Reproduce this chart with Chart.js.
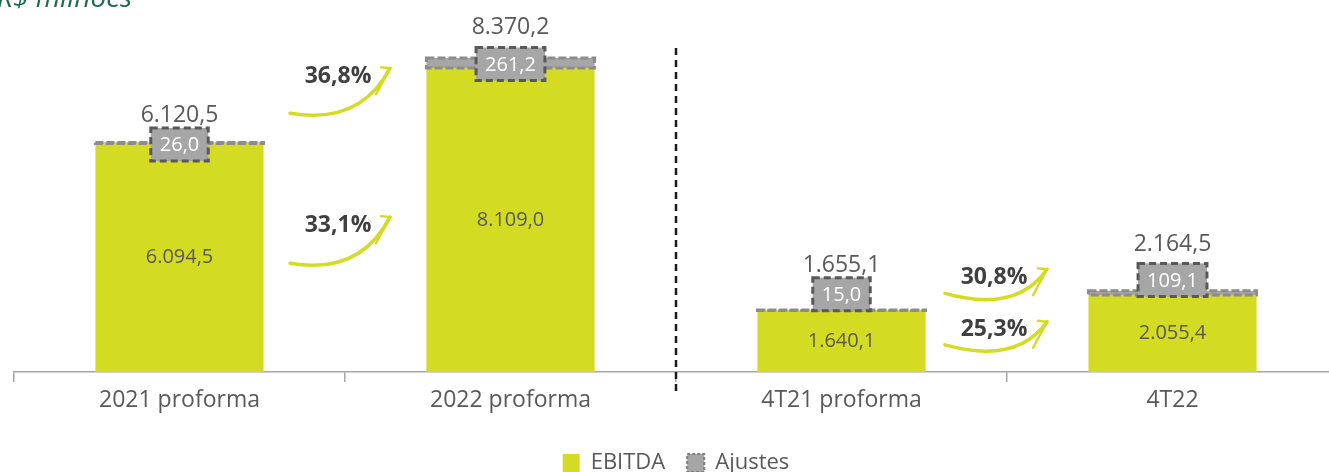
<!DOCTYPE html>
<html>
<head>
<meta charset="utf-8">
<script src="https://cdn.jsdelivr.net/npm/chart.js@4.4.0/dist/chart.umd.min.js"></script>
<style>
  html, body { margin: 0; padding: 0; overflow: hidden; background: #fff; }
  #wrap { position: relative; width: 1345px; height: 484px; }
</style>
</head>
<body>
<div id="wrap"><canvas id="chart" width="1345" height="484"></canvas></div>
<script>
const categories = ['2021 proforma', '2022 proforma', '4T21 proforma', '4T22'];
const ebitda = [6094.5, 8109.0, 1640.1, 2055.4];
const ajustes = [26.0, 261.2, 15.0, 109.1];
const growthTotal = ['36,8%', '30,8%'];
const growthEbitda = ['33,1%', '25,3%'];

const totals = ebitda.map((v, i) => v + ajustes[i]);

const green = '#d4db23';
const grey = '#a6a6a6';
const textGrey = '#595959';
const fontFamily = "'Open Sans', sans-serif";

function fmt(v) {
    const parts = v.toFixed(1).split('.');
    return parts[0].replace(/\B(?=(\d{3})+(?!\d))/g, '.') + ',' + parts[1];
}

// labels, dashed boxes, growth arrows, divider, title
const overlay = {
    id: 'overlay',
    afterDatasetsDraw(chart, args, opts) {
        const ctx = chart.ctx;
        const yScale = chart.scales.y;
        const xScale = chart.scales.x;
        const bars = chart.getDatasetMeta(0).data;
        const adj = chart.getDatasetMeta(1).data;

        ctx.save();
        ctx.textAlign = 'center';

        // ebitda values inside bars
        ctx.font = '20px ' + fontFamily;
        ctx.fillStyle = textGrey;
        ctx.textBaseline = 'middle';
        bars.forEach((el, i) => {
            ctx.fillText(fmt(ebitda[i]), el.x, (el.y + el.base) / 2);
        });

        // dashed outline of the ajustes segment
        adj.forEach((el) => {
            ctx.save();
            ctx.setLineDash([8, 3]);
            ctx.lineWidth = 3;
            ctx.strokeStyle = '#8c8c8c';
            ctx.strokeRect(el.x - el.width / 2, el.y, el.width, el.base - el.y);
            ctx.restore();
        });

        // ajustes value box + total above it
        adj.forEach((el, i) => {
            const txt = fmt(ajustes[i]);
            ctx.font = '20px ' + fontFamily;
            const w = ctx.measureText(txt).width + 18;
            const h = 33;
            const cy = (el.y + el.base) / 2 + opts.boxShift[i];
            ctx.fillStyle = grey;
            ctx.fillRect(el.x - w / 2, cy - h / 2, w, h);
            ctx.save();
            ctx.setLineDash([7, 4]);
            ctx.lineWidth = 3;
            ctx.strokeStyle = '#595959';
            ctx.strokeRect(el.x - w / 2, cy - h / 2, w, h);
            ctx.restore();
            ctx.fillStyle = '#ffffff';
            ctx.textBaseline = 'middle';
            ctx.fillText(txt, el.x, cy + 1);

            ctx.font = '23px ' + fontFamily;
            ctx.fillStyle = textGrey;
            ctx.textBaseline = 'alphabetic';
            ctx.fillText(fmt(totals[i]), el.x, cy - h / 2 - opts.totalGap[i]);
        });

        // growth arrows
        opts.arrows.forEach((a) => {
            const mx = (bars[a.from].x + bars[a.to].x) / 2;
            const x0 = mx + a.dx0, x1 = mx + a.dx1;
            const y0 = yScale.getPixelForValue(a.v0), y1 = yScale.getPixelForValue(a.v1);
            ctx.save();
            ctx.strokeStyle = green;
            ctx.lineWidth = 3.5;
            ctx.lineCap = 'round';
            ctx.beginPath();
            ctx.moveTo(x0, y0);
            ctx.quadraticCurveTo(x0 + 0.7 * (x1 - x0), y0 + a.sag, x1, y1);
            ctx.stroke();
            ctx.lineWidth = 2.5;
            ctx.beginPath();
            ctx.moveTo(x1 - 9, y1 - 1);
            ctx.lineTo(x1, y1);
            ctx.lineTo(x1 - 14, y1 + 26);
            ctx.stroke();
            ctx.restore();

            const label = a.kind === 'total' ? growthTotal[a.idx] : growthEbitda[a.idx];
            ctx.font = 'bold 23px ' + fontFamily;
            ctx.fillStyle = '#404040';
            ctx.textBaseline = 'middle';
            ctx.fillText(label, (x0 + x1) / 2 - 2, y1 + 8);
        });

        // dashed divider between years and quarters
        const dx = (bars[1].x + bars[2].x) / 2;
        ctx.save();
        ctx.setLineDash([7, 5]);
        ctx.lineWidth = 2.5;
        ctx.strokeStyle = '#1a1a1a';
        ctx.beginPath();
        ctx.moveTo(dx, 48);
        ctx.lineTo(dx, xScale.top + 22);
        ctx.stroke();
        ctx.restore();

        // unit title, cut by the top edge
        ctx.font = 'italic 28px ' + fontFamily;
        ctx.fillStyle = '#1e6b4f';
        ctx.textAlign = 'left';
        ctx.textBaseline = 'alphabetic';
        ctx.fillText('R$ milhões', -3, 7);

        ctx.restore();
    }
};

new Chart(document.getElementById('chart'), {
    type: 'bar',
    data: {
        labels: categories,
        datasets: [
            {
                label: 'EBITDA',
                data: ebitda,
                backgroundColor: green,
                borderWidth: 0,
                barPercentage: 0.508,
                categoryPercentage: 1
            },
            {
                label: 'Ajustes',
                data: ajustes,
                backgroundColor: grey,
                borderWidth: 0,
                barPercentage: 0.508,
                categoryPercentage: 1
            }
        ]
    },
    options: {
        responsive: false,
        animation: false,
        devicePixelRatio: 1,
        layout: { padding: { left: 14, right: 7, top: 0, bottom: 0 } },
        scales: {
            x: {
                stacked: true,
                border: { display: true, color: '#a6a6a6', width: 1.5 },
                grid: {
                    offset: true,
                    drawOnChartArea: false,
                    drawTicks: true,
                    tickLength: 10,
                    color: '#a6a6a6',
                    lineWidth: 1.5
                },
                ticks: {
                    color: textGrey,
                    font: { family: fontFamily, size: 23 },
                    padding: 5
                },
                afterFit(scale) { scale.height = 58; }
            },
            y: {
                stacked: true,
                display: false,
                min: 0,
                max: 9920
            }
        },
        plugins: {
            tooltip: { enabled: false },
            legend: {
                position: 'bottom',
                labels: {
                    color: textGrey,
                    font: { family: fontFamily, size: 22 },
                    boxWidth: 17,
                    boxHeight: 18,
                    padding: 22,
                    generateLabels(chart) {
                        return chart.data.datasets.map((ds, i) => ({
                            text: ds.label,
                            fillStyle: ds.backgroundColor,
                            strokeStyle: i === 1 ? '#7f7f7f' : ds.backgroundColor,
                            lineWidth: i === 1 ? 2 : 0,
                            lineDash: i === 1 ? [3, 2] : [],
                            fontColor: textGrey,
                            datasetIndex: i
                        }));
                    }
                }
            },
            overlay: {
                boxShift: [1.5, 1, -16, -13],
                totalGap: [6, 14, 6, 12],
                arrows: [
                    { from: 0, to: 1, kind: 'total', idx: 0, dx0: -55, dx1: 45, v0: 6900, v1: 8100, sag: 12 },
                    { from: 0, to: 1, kind: 'ebitda', idx: 0, dx0: -55, dx1: 45, v0: 2900, v1: 4130, sag: 12 },
                    { from: 2, to: 3, kind: 'total', idx: 1, dx0: -62, dx1: 40, v0: 2095, v1: 2740, sag: 20 },
                    { from: 2, to: 3, kind: 'ebitda', idx: 1, dx0: -62, dx1: 40, v0: 725, v1: 1340, sag: 20 }
                ]
            }
        }
    },
    plugins: [overlay]
});
</script>
</body>
</html>
